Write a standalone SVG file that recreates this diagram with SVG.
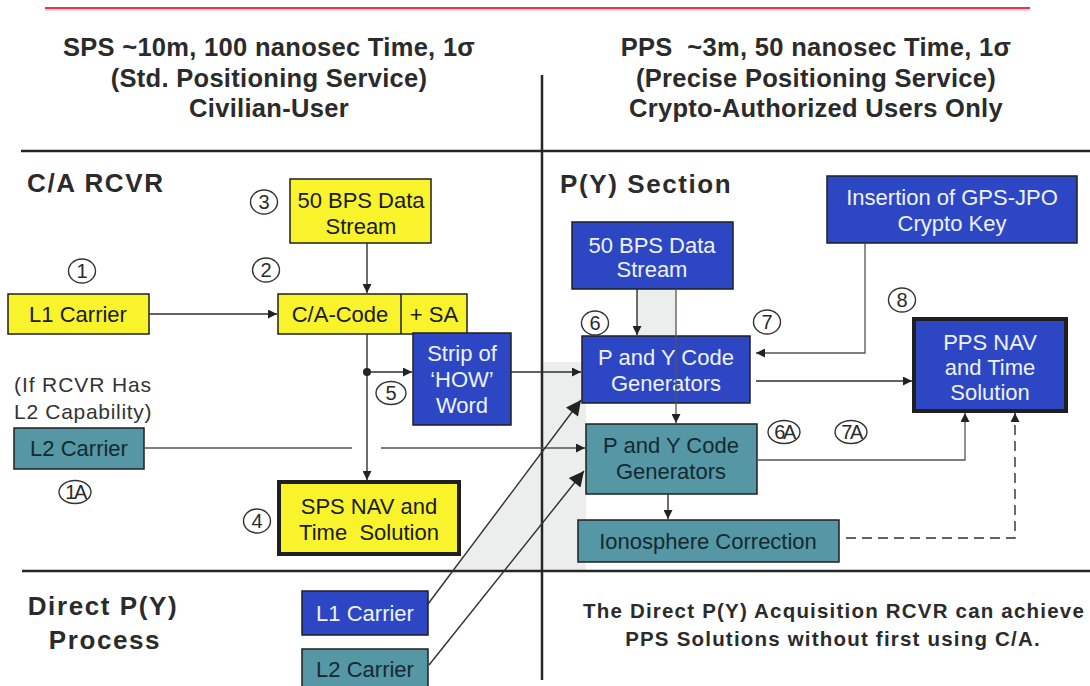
<svg xmlns="http://www.w3.org/2000/svg" width="1090" height="686" viewBox="0 0 1090 686">
<defs>
<style>
text{font-family:"Liberation Sans",Arial,sans-serif;}
.hdr{font-size:25.5px;font-weight:bold;fill:#2b2b2b;text-anchor:middle;letter-spacing:0.3px;white-space:pre}
.sec{font-size:26px;font-weight:bold;fill:#2b2b2b;letter-spacing:1.6px}
.bx{stroke:#1f1f1f;stroke-width:1.5}
.yl{fill:#f9f32c}
.bl{fill:#2d47c4}
.tl{fill:#5697a5}
.thick{stroke-width:4}
.t{font-size:22px;text-anchor:middle;white-space:pre}
.tw{fill:#eef2ff}
.tk{fill:#1a1a1a}
.tt{fill:#142a30}
.num{font-size:20px;text-anchor:middle;fill:#2a2a2a}
.circ{fill:none;stroke:#333;stroke-width:1.4}
.c{fill:none;stroke:#2f2f2f;stroke-width:1.4}
.cl{fill:none;stroke:#555;stroke-width:1.3}
.grid{stroke:#262626;stroke-width:2.5;fill:none}
.shade{fill:#eceeee}
.note{font-size:21px;fill:#333}
.foot{font-size:20.5px;font-weight:bold;fill:#2b2b2b;text-anchor:middle;letter-spacing:1.2px}
</style>
<marker id="a" viewBox="0 0 10 10" refX="10" refY="5" markerWidth="11" markerHeight="9" markerUnits="userSpaceOnUse" orient="auto"><path d="M0,0 L10,5 L0,10 z" fill="#222"/></marker>
<marker id="ab" viewBox="0 0 10 10" refX="10" refY="5" markerWidth="22" markerHeight="15" markerUnits="userSpaceOnUse" orient="auto"><path d="M0,0 L10,5 L0,10 z" fill="#222"/></marker>
</defs>
<rect width="1090" height="686" fill="#ffffff"/>

<g id="shading">
<rect class="shade" x="637" y="289" width="39" height="47"/>
<rect class="shade" x="542" y="362" width="44" height="209"/>
<polygon class="shade" points="542,451 542,571 453,571"/>
</g>

<g id="frame">
<line x1="45" y1="8" x2="1030" y2="8" stroke="#e8344a" stroke-width="2"/>
<line x1="45" y1="10" x2="1030" y2="10" stroke="#f6c6cc" stroke-width="1.5"/>
<path class="grid" d="M21,151 H1090 M542,75 V680 M22,571 H1090"/>
</g>

<g id="headers">
<text class="hdr" x="269" y="56">SPS ~10m, 100 nanosec Time, 1σ</text>
<text class="hdr" x="269" y="87">(Std. Positioning Service)</text>
<text class="hdr" x="269" y="117">Civilian-User</text>
<text class="hdr" x="816" y="56">PPS  ~3m, 50 nanosec Time, 1σ</text>
<text class="hdr" x="816" y="87">(Precise Positioning Service)</text>
<text class="hdr" x="816" y="117">Crypto-Authorized Users Only</text>
<text class="sec" x="27" y="192">C/A RCVR</text>
<text class="sec" x="560" y="193">P(Y) Section</text>
<text class="sec" x="103" y="615" text-anchor="middle">Direct P(Y)</text>
<text class="sec" x="105" y="649" text-anchor="middle">Process</text>
<text class="note" x="14" y="392" letter-spacing="0.9">(If RCVR Has</text>
<text class="note" x="14" y="419" letter-spacing="0.7">L2 Capability)</text>
<text class="foot" x="834" y="618">The Direct P(Y) Acquisition RCVR can achieve</text>
<text class="foot" x="833" y="646">PPS Solutions without first using C/A.</text>
</g>

<g id="ca-data">
<rect class="bx yl" x="290" y="179" width="141" height="64"/>
<text class="t tk" x="361" y="208">50 BPS Data</text>
<text class="t tk" x="361" y="234">Stream</text>
</g>
<g id="l1-carrier">
<rect class="bx yl" x="8" y="294" width="141" height="40"/>
<text class="t tk" x="78" y="322">L1 Carrier</text>
</g>
<g id="ca-code">
<rect class="bx yl" x="278" y="294" width="189" height="40"/>
<line class="bx" x1="401" y1="294" x2="401" y2="334"/>
<text class="t tk" x="340" y="322">C/A-Code</text>
<text class="t tk" x="434" y="322">+ SA</text>
</g>
<g id="strip-how">
<rect class="bx bl" x="413" y="333" width="98" height="92"/>
<text class="t tw" x="462" y="361">Strip of</text>
<text class="t tw" x="462" y="387">‘HOW’</text>
<text class="t tw" x="462" y="413">Word</text>
</g>
<g id="sps-nav">
<rect class="bx yl thick" x="279" y="482" width="180" height="72"/>
<text class="t tk" x="369" y="514">SPS NAV and</text>
<text class="t tk" x="369" y="540">Time  Solution</text>
</g>
<g id="l2-carrier">
<rect class="bx tl" x="14" y="428" width="130" height="41"/>
<text class="t tt" x="79" y="456">L2 Carrier</text>
</g>
<g id="py-data">
<rect class="bx bl" x="572" y="222" width="161" height="67"/>
<text class="t tw" x="652" y="253">50 BPS Data</text>
<text class="t tw" x="652" y="277">Stream</text>
</g>
<g id="crypto-key">
<rect class="bx bl" x="827" y="176" width="250" height="67"/>
<text class="t tw" x="952" y="205">Insertion of GPS-JPO</text>
<text class="t tw" x="952" y="231">Crypto Key</text>
</g>
<g id="py-gen">
<rect class="bx bl" x="582" y="336" width="168" height="67"/>
<text class="t tw" x="666" y="365">P and Y Code</text>
<text class="t tw" x="666" y="391">Generators</text>
</g>
<g id="pps-nav">
<rect class="bx bl thick" x="914" y="319" width="152" height="92"/>
<text class="t tw" x="990" y="350">PPS NAV</text>
<text class="t tw" x="990" y="375">and Time</text>
<text class="t tw" x="990" y="400">Solution</text>
</g>
<g id="py-gen-l2">
<rect class="bx tl" x="586" y="424" width="171" height="70"/>
<text class="t tt" x="671" y="453">P and Y Code</text>
<text class="t tt" x="671" y="479">Generators</text>
</g>
<g id="iono">
<rect class="bx tl" x="578" y="520" width="261" height="42"/>
<text class="t tt" x="708" y="549">Ionosphere Correction</text>
</g>
<g id="direct-l1">
<rect class="bx bl" x="302" y="591" width="126" height="44"/>
<text class="t tw" x="365" y="621">L1 Carrier</text>
</g>
<g id="direct-l2">
<rect class="bx tl" x="302" y="649" width="126" height="45"/>
<text class="t tt" x="365" y="677">L2 Carrier</text>
</g>

<g id="labels">
<ellipse class="circ" cx="82" cy="271" rx="13.5" ry="12"/><text class="num" x="82" y="278">1</text>
<ellipse class="circ" cx="266" cy="270" rx="13.5" ry="12"/><text class="num" x="266" y="277">2</text>
<ellipse class="circ" cx="264" cy="202" rx="13.5" ry="12"/><text class="num" x="264" y="209">3</text>
<ellipse class="circ" cx="257" cy="521" rx="13.5" ry="12"/><text class="num" x="257" y="528">4</text>
<ellipse class="circ" cx="391" cy="393" rx="15" ry="11.5"/><text class="num" x="391" y="400">5</text>
<ellipse class="circ" cx="75" cy="492" rx="16" ry="11.5"/><text class="num" x="75" y="499" letter-spacing="-2.5">1A</text>
<ellipse class="circ" cx="595" cy="323" rx="13.5" ry="12"/><text class="num" x="595" y="330">6</text>
<ellipse class="circ" cx="767" cy="322" rx="13.5" ry="12"/><text class="num" x="767" y="329">7</text>
<ellipse class="circ" cx="902" cy="300" rx="13.5" ry="12"/><text class="num" x="902" y="307">8</text>
<ellipse class="circ" cx="784" cy="432" rx="16" ry="11.5"/><text class="num" x="784" y="439" letter-spacing="-2.5">6A</text>
<ellipse class="circ" cx="851" cy="432" rx="16" ry="11.5"/><text class="num" x="851" y="439" letter-spacing="-2.5">7A</text>
</g>

<g id="connectors">
<path class="c" d="M149,314 H277" marker-end="url(#a)"/>
<path class="c" d="M367,243 V293" marker-end="url(#a)"/>
<path class="c" d="M367,334 V480" marker-end="url(#a)"/>
<circle cx="367" cy="372" r="4" fill="#222"/>
<path class="c" d="M367,372 H412" marker-end="url(#a)"/>
<path class="c" d="M511,372 H581" marker-end="url(#a)"/>
<path class="cl" d="M144,448 H352"/>
<path class="cl" d="M381,448 H585" marker-end="url(#a)"/>
<path class="c" d="M637,289 V335" marker-end="url(#a)"/>
<path class="cl" d="M676,289 V423" marker-end="url(#a)"/>
<path class="cl" d="M865,243 V353 H756" marker-end="url(#a)"/>
<path class="c" d="M756,381 H912" marker-end="url(#a)"/>
<path class="cl" d="M757,460 H965 V413" marker-end="url(#a)"/>
<path class="c" d="M668,494 V519" marker-end="url(#a)"/>
<path class="c" d="M846,538 H1015 V413" stroke-dasharray="10,6" marker-end="url(#a)"/>
<path class="c" d="M428,604 L581,400" marker-end="url(#ab)"/>
<path class="c" d="M429,665 L584,471" marker-end="url(#ab)"/>
</g>
</svg>
